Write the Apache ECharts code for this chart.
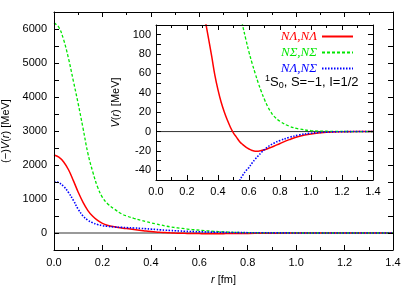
<!DOCTYPE html>
<html>
<head>
<meta charset="utf-8">
<script src="https://cdn.jsdelivr.net/npm/echarts@6/dist/echarts.min.js"></script>
<style>html,body{margin:0;padding:0;background:#fff}#c{width:407px;height:285px}</style>
</head>
<body>
<div id="c"></div>
<script>
// r in fm
const r = [0,0.02,0.04,0.06,0.08,0.10,0.12,0.14,0.16,0.18,0.20,0.22,0.25,0.28,0.30,0.33,0.36,0.38,0.40,0.42,0.44,0.46,0.48,0.50,0.52,0.54,0.56,0.58,0.60,0.62,0.64,0.66,0.68,0.70,0.72,0.74,0.76,0.80,0.86,0.92,1.0,1.1,1.2,1.3,1.4];
// V(r) in MeV
const vLL = [2295,2230,2090,1860,1540,1200,900,660,490,370,285,230,182,145,130,104,77,58,43,30.5,20.5,12,4.5,-1.5,-6,-10.5,-13.5,-16,-18,-19.5,-20.2,-20.2,-19.6,-18.8,-17.7,-16.5,-15.2,-12.3,-8.3,-5,-2.4,-0.8,-0.2,0,0];
const vSS = [6180,6050,5680,5130,4470,3800,3080,2340,1800,1350,1050,870,700,560,500,430,370,335,300,268,237,208,180,160,142,125,109,95,82,70.5,60,50,41,33,26,20.5,16,10.5,5.5,2.8,1.0,0.3,0.1,0,0];
const vLS = [-1515,-1480,-1370,-1190,-960,-700,-500,-375,-300,-250,-218,-197,-178,-165,-158,-148,-135,-125,-115,-104,-93,-83,-74,-66,-58,-50.5,-45,-40.5,-37,-32.5,-28.5,-25,-21.5,-18.5,-16,-13.8,-12,-9.3,-6,-3.6,-1.7,-0.6,-0.15,0,0];
const names = ['NΛ,NΛ','NΣ,NΣ','NΛ,NΣ'];
const colors = ['#ff0000','#00e600','#0000ff'];

const pairs = (ys) => r.map((x,i)=>[x,ys[i]]);
const font = 'Liberation Sans, Arial, sans-serif';
const styles = [
  {color: colors[0], width: 1.5, type: 'solid'},
  {color: colors[1], width: 1.3, type: [3,2]},
  {color: colors[2], width: 1.6, type: [1.5,1.5]}
];

function xAx(grid, pos, labels, z, extra) {
  return Object.assign({
    type: 'value', gridIndex: grid, position: pos, min: 0, max: 1.4, interval: 0.2,
    axisLine: {show: true, onZero: false, lineStyle: {color: '#000', width: 1}},
    axisTick: {show: true, inside: true, length: 5, lineStyle: {color: '#000'}},
    minorTick: {show: true, splitNumber: 2, length: 3, lineStyle: {color: '#000'}},
    splitLine: {show: false},
    axisLabel: {show: labels, color: '#000', fontSize: 11, fontFamily: font, margin: 7,
      formatter: v => v.toFixed(1)},
    z: z
  }, extra || {});
}
function yAx(grid, pos, labels, min, max, interval, step, z, extra) {
  return Object.assign({
    type: 'value', gridIndex: grid, position: pos, min: min, max: max, interval: interval,
    axisLine: {show: true, onZero: false, lineStyle: {color: '#000', width: 1}},
    axisTick: {show: true, inside: true, length: 5, lineStyle: {color: '#000'}},
    splitLine: {show: false},
    axisLabel: {show: labels, color: '#000', fontSize: 11, fontFamily: font, margin: 7,
      formatter: v => (Math.abs(v % step) < 1e-9 ? String(v) : '')},
    z: z
  }, extra || {});
}

const series = [];
series.push({type: 'line', xAxisIndex: 0, yAxisIndex: 0, data: [[0,0],[1.4,0]], symbol: 'none',
  lineStyle: {color: '#999', width: 2}, z: 1, silent: true, animation: false});
const mainData = [vLL, vSS, vLS.map(v => -v)];
mainData.forEach((d, i) => series.push({
  name: names[i], type: 'line', xAxisIndex: 0, yAxisIndex: 0, data: pairs(d), symbol: 'none',
  smooth: 0.4, lineStyle: styles[i], itemStyle: {color: colors[i]}, z: 2, animation: false
}));
series.push({type: 'line', xAxisIndex: 2, yAxisIndex: 2, data: [[0,0],[1.4,0]], symbol: 'none',
  lineStyle: {color: '#333', width: 1}, z: 11, silent: true, animation: false});
const insetData = [vLL, vSS, vLS];
insetData.forEach((d, i) => series.push({
  name: names[i], type: 'line', xAxisIndex: 2, yAxisIndex: 2, data: pairs(d), symbol: 'none',
  smooth: 0.4, clip: true, lineStyle: styles[i], itemStyle: {color: colors[i]}, z: 12, animation: false
}));

const option = {
  animation: false,
  backgroundColor: '#fff',
  grid: [
    {left: 54, right: 14, top: 12, bottom: 35, show: false, outerBoundsMode: 'none', containLabel: false},
    {left: 156, right: 34, top: 25, bottom: 105, show: true, backgroundColor: '#fff', borderWidth: 0, z: 10, outerBoundsMode: 'none', containLabel: false}
  ],
  xAxis: [
    xAx(0, 'bottom', true, 3, {name: '{i|r} [fm]', nameLocation: 'middle', nameGap: 24,
      nameTextStyle: {color: '#000', fontSize: 11, fontFamily: font, rich: {i: {fontStyle: 'italic', fontSize: 11, fontFamily: font}}}}),
    xAx(0, 'top', false, 3),
    xAx(1, 'bottom', true, 13, {axisLabel: {show: true, color: '#000', fontSize: 11, fontFamily: font, margin: 6, formatter: v => v.toFixed(1)}}),
    xAx(1, 'top', false, 13)
  ],
  yAxis: [
    yAx(0, 'left', true, -500, 6500, 500, 1000, 3, {name: '(−){i|V}({i|r}) [MeV]', nameLocation: 'middle', nameGap: 34, nameRotate: 90,
      nameTextStyle: {color: '#000', fontSize: 11, fontFamily: font, rich: {i: {fontStyle: 'italic', fontSize: 11, fontFamily: font}}}}),
    yAx(0, 'right', false, -500, 6500, 500, 1000, 3),
    yAx(1, 'left', true, -50, 110, 10, 20, 13, {name: '{i|V}({i|r}) [MeV]', nameLocation: 'middle', nameGap: 26, nameRotate: 90,
      nameTextStyle: {color: '#000', fontSize: 11, fontFamily: font, rich: {i: {fontStyle: 'italic', fontSize: 11, fontFamily: font}}},
      axisLabel: {show: true, color: '#000', fontSize: 11, fontFamily: font, margin: 5, formatter: v => (Math.abs(v % 20) < 1e-9 ? String(v) : '')}}),
    yAx(1, 'right', false, -50, 110, 10, 20, 13)
  ],
  legend: {
    orient: 'vertical', right: 48, top: 25, align: 'right', itemWidth: 31, itemHeight: 10, itemGap: 3, z: 20,
    itemStyle: {opacity: 0},
    textStyle: {fontFamily: 'Liberation Serif, serif', fontStyle: 'italic', fontSize: 13},
    data: names.map((n, i) => ({name: n, textStyle: {color: colors[i]}})),
    selectedMode: false
  },
  graphic: [{
    type: 'text', x: 265, y: 82, z: 20,
    style: {
      text: '{sup|1}{n|S}{sub|0}{n|, S=−1, I=1/2}',
      verticalAlign: 'middle', fill: '#000',
      rich: {
        n: {fontSize: 13, fontFamily: font, fill: '#000', lineHeight: 16},
        sup: {fontSize: 9, fontFamily: font, fill: '#000', verticalAlign: 'top', lineHeight: 16, padding: [0,0,8,0]},
        sub: {fontSize: 9, fontFamily: font, fill: '#000', verticalAlign: 'bottom', lineHeight: 16, padding: [6,0,0,0]}
      }
    }
  }],
  series: series
};
echarts.init(document.getElementById('c')).setOption(option);
</script>
</body>
</html>
